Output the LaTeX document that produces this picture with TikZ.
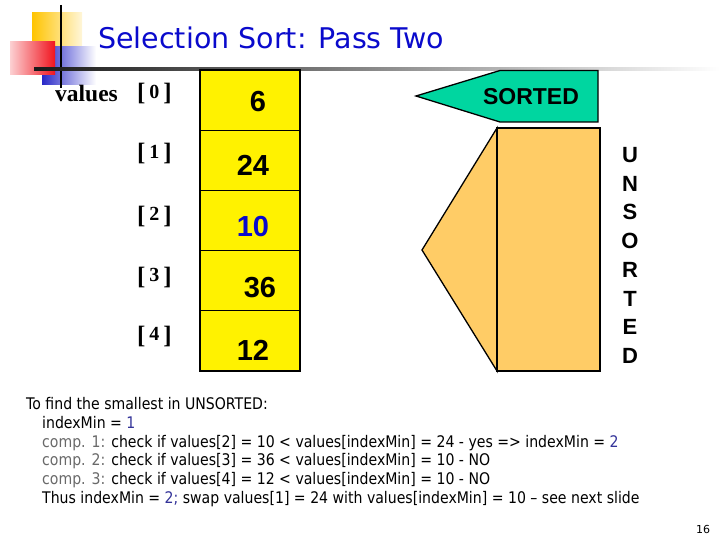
\documentclass[tikz,border=0pt]{standalone}
\usepackage{fontspec}
\setmainfont{Liberation Serif}
\newfontfamily\arialf{Liberation Sans}
\newfontfamily\tahf{DejaVu Sans}
\usepackage{graphicx}
\definecolor{titleblue}{RGB}{10,10,204}
\definecolor{sortedgreen}{RGB}{0,214,160}
\definecolor{unsortorange}{RGB}{255,204,102}
\definecolor{navyblue}{RGB}{51,51,153}
\definecolor{compgray}{RGB}{105,105,105}
\definecolor{logoyellow}{RGB}{255,196,0}
\definecolor{logoblue}{RGB}{40,40,200}
\definecolor{logored}{RGB}{240,20,30}
\newcommand\idxlab[1]{[\hspace{4pt}\raisebox{2.5pt}{\fontsize{20}{20}\selectfont #1}\hspace{4pt}]}
\newcommand\btext[1]{\scalebox{0.88}[1]{#1}}
\tikzset{
  cell/.style={draw, line width=1.3pt, fill=yellow, minimum width=100pt, minimum height=60.2pt, inner sep=0pt},
  numtxt/.style={font=\arialf\bfseries\fontsize{29}{30}\selectfont, inner sep=0pt},
  idxtxt/.style={font=\bfseries\fontsize{25}{28}\selectfont, anchor=base east, inner sep=0pt},
  lettxt/.style={font=\arialf\bfseries\fontsize{22}{24}\selectfont, inner sep=0pt},
  bodytxt/.style={font=\tahf\fontsize{16}{18}\selectfont, anchor=base west, inner sep=0pt},
  outline/.style={draw, line width=1.3pt}
}
\begin{document}
\begin{tikzpicture}[x=1pt,y=-1pt]
\useasboundingbox (0,0) rectangle (720,540);
% logo
\shade[left color=logoyellow, right color=white!85!logoyellow] (32,13) rectangle (82,58);
\shade[left color=logoblue, right color=white] (42,47) rectangle (96,85);
\shade[left color=white!80!logored, right color=logored] (10,42) rectangle (55,75);
\draw[line width=2pt] (61,5) -- (61,88);
\shade[left color=black!90, right color=black!35] (34,67.8) rectangle (460,70.8);
\shade[left color=black!35, right color=white] (460,67.8) rectangle (720,70.8);
% title
\node[anchor=base west, inner sep=0pt, text=titleblue, font=\tahf\fontsize{28.5}{30}\selectfont] (title) at (98,48.5) {Selection Sort: Pass Two};
% array
\node[anchor=base west, inner sep=0pt, font=\bfseries\fontsize{23.5}{24}\selectfont] (vals) at (55,102) {values};
\node[idxtxt] (i0) at (172,101) {\idxlab{0}};
\node[idxtxt] (i1) at (172,161) {\idxlab{1}};
\node[idxtxt] (i2) at (172,223) {\idxlab{2}};
\node[idxtxt] (i3) at (172,284) {\idxlab{3}};
\node[idxtxt] (i4) at (172,343) {\idxlab{4}};
\node[cell] (c0) at (250,100.1) {};
\node[cell] (c1) at (250,160.3) {};
\node[cell] (c2) at (250,220.5) {};
\node[cell] (c3) at (250,280.7) {};
\node[cell] (c4) at (250,340.9) {};
\node[numtxt] (n0) at (258,102) {6};
\node[numtxt] (n1) at (253,165) {24};
\node[numtxt, text=titleblue] (n2) at (253,227) {10};
\node[numtxt] (n3) at (260,288) {36};
\node[numtxt] (n4) at (253,350) {12};
% sorted arrow
\draw[outline, fill=sortedgreen] (416,96) -- (500,70.5) -- (598,70.5) -- (598,122) -- (500,122) -- cycle;
\node[font=\arialf\bfseries\fontsize{23}{25}\selectfont, inner sep=0pt] (sorted) at (531,97) {SORTED};
% unsorted shape
\draw[outline, fill=unsortorange] (497,128) -- (422,250) -- (497,371) -- cycle;
\draw[outline, fill=unsortorange] (497,128) rectangle (600,371);
\foreach \L [count=\k from 0] in {U,N,S,O,R,T,E,D}
  \node[lettxt] (u\k) at (630,155+28.7*\k) {\L};
% explanation
\node[bodytxt] (l1) at (26,409) {\btext{To find the smallest in UNSORTED:}};
\node[bodytxt] (l2) at (42,428) {\btext{indexMin = \textcolor{navyblue}{1}}};
\node[bodytxt] (l3) at (42,447) {\btext{\textcolor{compgray}{comp. 1:} check if values[2] = 10 < values[indexMin] = 24 - yes => indexMin = \textcolor{navyblue}{2}}};
\node[bodytxt] (l4) at (42,465.5) {\btext{\textcolor{compgray}{comp. 2:} check if values[3] = 36 < values[indexMin] = 10 - NO}};
\node[bodytxt] (l5) at (42,484.5) {\btext{\textcolor{compgray}{comp. 3:} check if values[4] = 12 < values[indexMin] = 10 - NO}};
\node[bodytxt] (l6) at (42,503.5) {\btext{Thus indexMin = \textcolor{navyblue}{2;} swap values[1] = 24 with values[indexMin] = 10 – see next slide}};
\node[font=\tahf\fontsize{11}{12}\selectfont, inner sep=0pt] (pg) at (703,529) {16};
\end{tikzpicture}
\end{document}
